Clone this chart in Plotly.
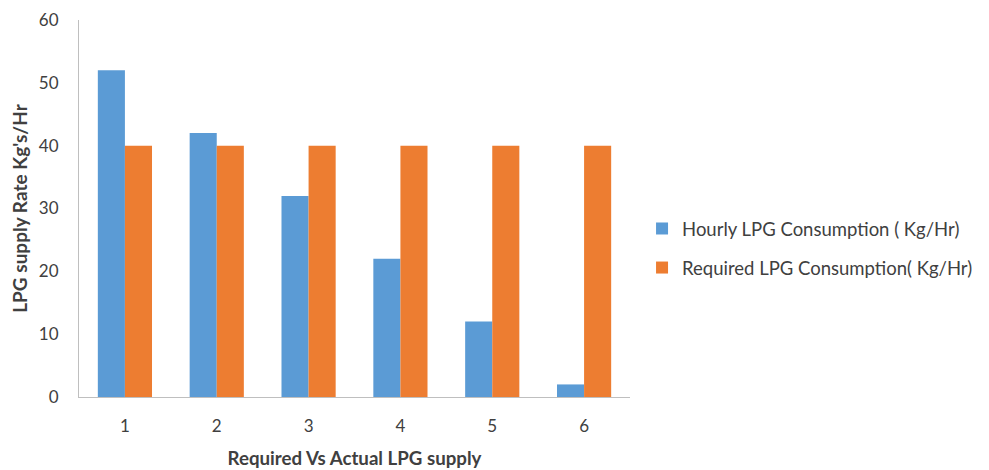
import plotly.graph_objects as go

categories = ["1", "2", "3", "4", "5", "6"]
hourly = [52, 42, 32, 22, 12, 2]
required = [40, 40, 40, 40, 40, 40]
series_names = ["Hourly LPG Consumption ( Kg/Hr)", "Required LPG Consumption( Kg/Hr)"]
y_ticks = [0, 10, 20, 30, 40, 50, 60]

fig = go.Figure()
fig.add_trace(go.Bar(x=categories, y=hourly, name=series_names[0],
                     marker=dict(color="#5B9BD5", line=dict(width=0)), legendgroup="a"))
fig.add_trace(go.Bar(x=categories, y=required, name=series_names[1],
                     marker=dict(color="#ED7D31", line=dict(width=0)), legendgroup="b"))

font = "Lato, 'Open Sans', sans-serif"
fig.update_layout(
    width=981, height=462,
    margin=dict(l=71, r=358, t=12, b=73),
    paper_bgcolor="white", plot_bgcolor="white",
    barmode="group", bargap=0.41, bargroupgap=0,
    font=dict(family=font, size=17, color="#404040"),
    showlegend=True,
    legend=dict(x=1.02, y=0.394, xanchor="left", yanchor="middle",
                font=dict(size=18.5, color="#404040"), tracegroupgap=12,
                itemwidth=30),
    xaxis=dict(showgrid=False, showline=True, linecolor="#BFBFBF", linewidth=1,
               ticks="", tickfont=dict(size=17, color="#404040"), automargin=False,
               ticklabelstandoff=14,
               title=dict(text="<b>Required Vs Actual LPG supply</b>", font=dict(size=18.7, color="#404040"), standoff=16)),
    yaxis=dict(range=[0, 60], tickvals=y_ticks, showgrid=False, showline=True,
               linecolor="#BFBFBF", linewidth=1, ticks="", zeroline=False, automargin=False,
               tickfont=dict(size=17, color="#404040"), ticklabelstandoff=16,
               title=dict(text="<b>LPG supply Rate Kg's/Hr</b>", font=dict(size=19, color="#404040"), standoff=10)),
)

fig.write_html("out.html")
